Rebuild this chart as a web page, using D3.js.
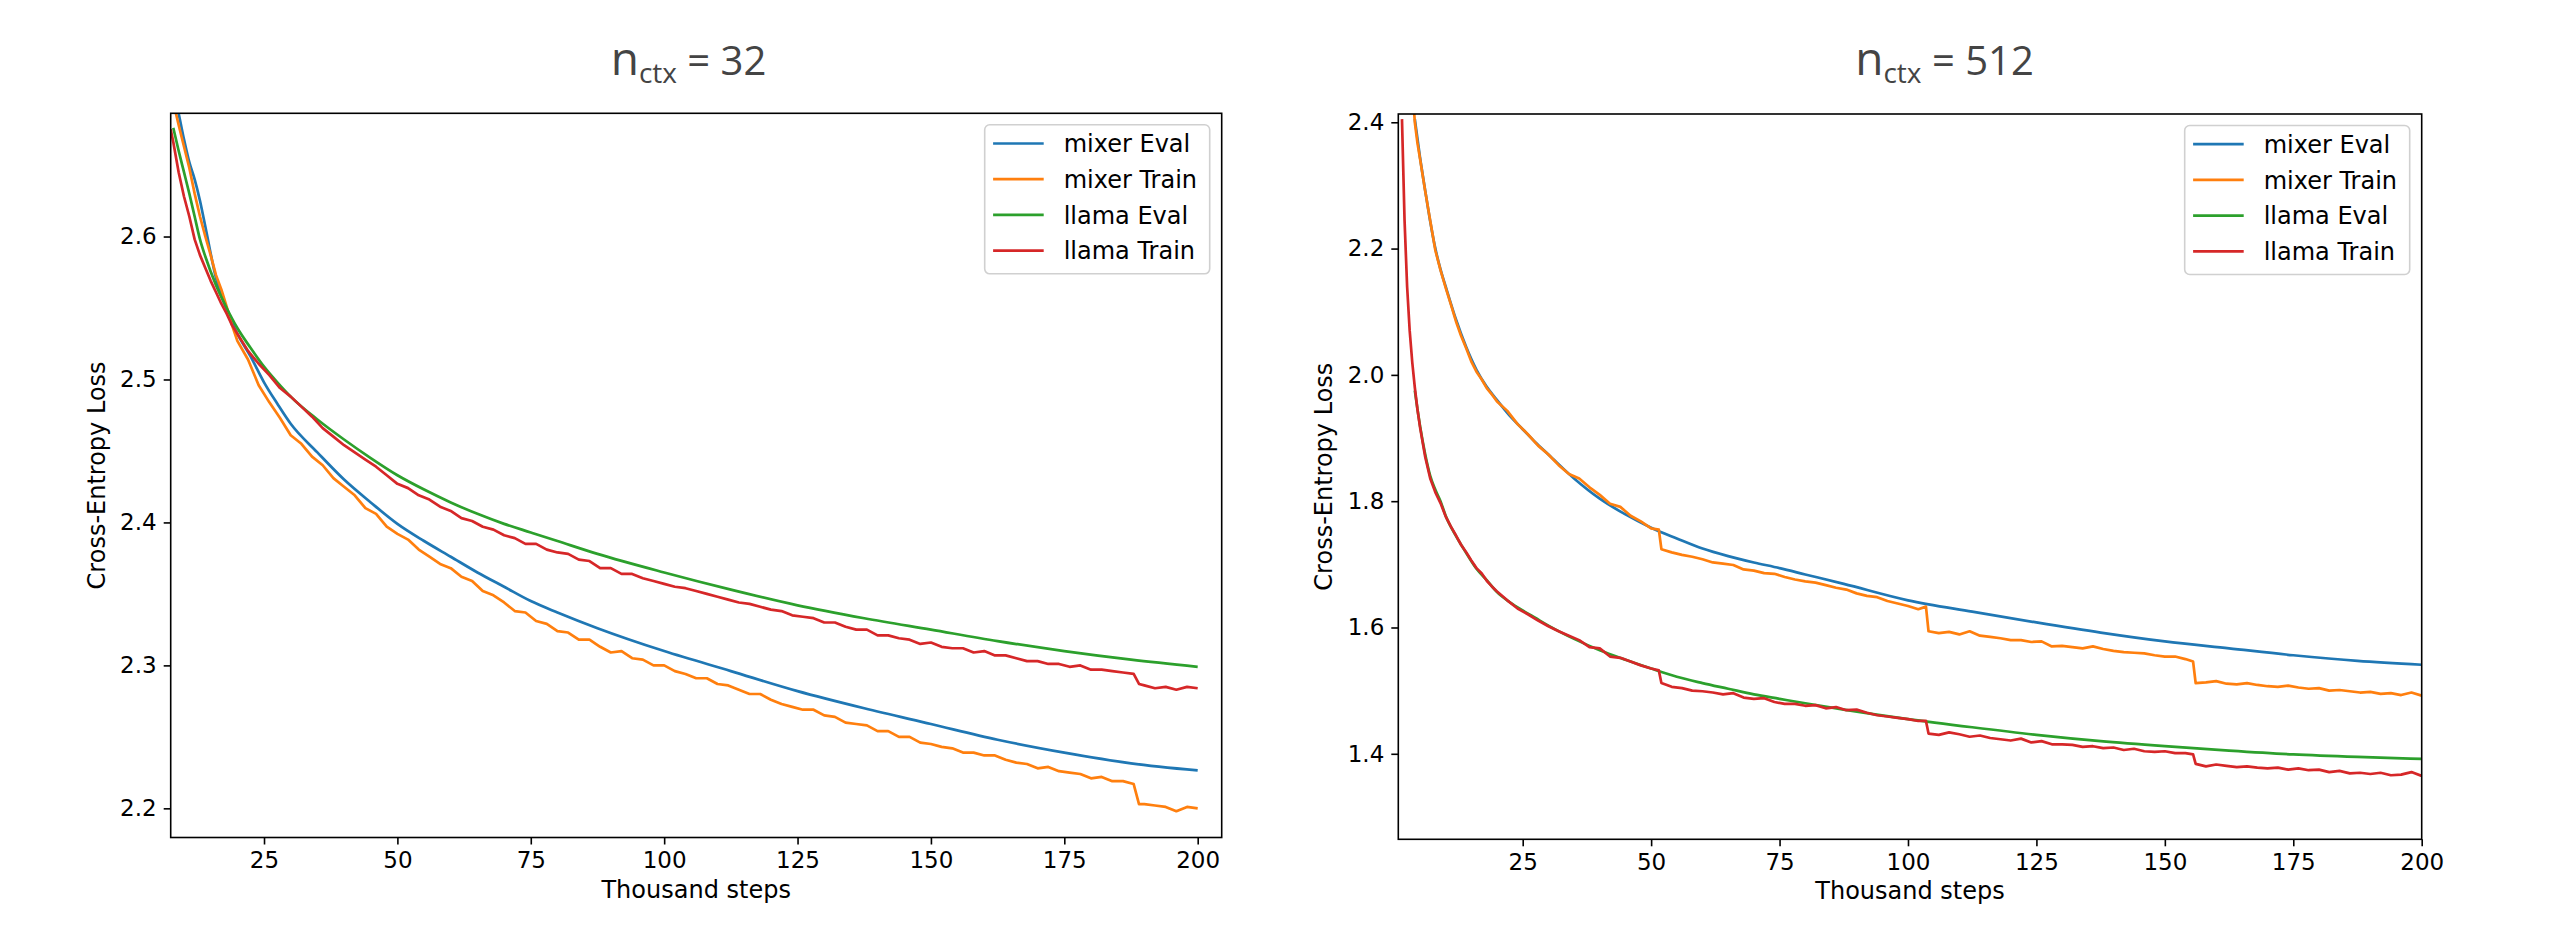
<!DOCTYPE html>
<html><head><meta charset="utf-8">
<script src="https://cdn.jsdelivr.net/npm/d3@7"></script>
<style>
html,body{margin:0;padding:0;background:#fff;}
svg{display:block;}
</style></head><body>
<svg id="chart" width="2554" height="942"></svg>
<script>
// ---------- DATA ----------
const seriesNames = ["mixer Eval", "mixer Train", "llama Eval", "llama Train"];
const seriesColors = ["#1f77b4", "#ff7f0e", "#2ca02c", "#d62728"];
const xTickValues = [25, 50, 75, 100, 125, 150, 175, 200];
const yTicks32 = [2.2, 2.3, 2.4, 2.5, 2.6];
const yTicks512 = [1.4, 1.6, 1.8, 2.0, 2.2, 2.4];
const panelTitles = ["32", "512"];

// n_ctx = 32
const evalSteps32 = [8, 9, 10, 11, 12, 13, 14, 16, 18, 20, 22.5, 25, 27.5, 30, 35, 40, 45, 50, 55, 60, 65, 70, 75, 80, 87.5, 100, 112.5, 125, 137.5, 150, 162.5, 175, 187.5, 200];
const mixerEval32 = [2.702, 2.686, 2.668, 2.652, 2.640, 2.625, 2.607, 2.571, 2.549, 2.532, 2.516, 2.498, 2.483, 2.469, 2.449, 2.430, 2.414, 2.399, 2.387, 2.376, 2.365, 2.355, 2.345, 2.337, 2.326, 2.310, 2.296, 2.282, 2.270, 2.259, 2.248, 2.239, 2.2315, 2.2265];
const llamaEval32 = [2.676, 2.660, 2.645, 2.630, 2.614, 2.598, 2.586, 2.566, 2.550, 2.536, 2.522, 2.509, 2.498, 2.488, 2.472, 2.458, 2.445, 2.433, 2.423, 2.414, 2.406, 2.399, 2.393, 2.387, 2.378, 2.365, 2.353, 2.342, 2.333, 2.325, 2.317, 2.310, 2.304, 2.299];
const trainSteps32 = [7.5, 8, 9, 10, 11, 12, 13, 14, 15, 16, 17, 18, 19, 20,
  22, 24, 26, 28, 30, 32, 34, 36, 38, 40, 42, 44, 46, 48, 50, 52, 54, 56, 58, 60,
  62, 64, 66, 68, 70, 72, 74, 76, 78, 80, 82, 84, 86, 88, 90, 92, 94, 96, 98, 100,
  102, 104, 106, 108, 110, 112, 114, 116, 118, 120, 122, 124, 126, 128, 130, 132, 134, 136, 138, 140,
  142, 144, 146, 148, 150, 152, 154, 156, 158, 160, 162, 164, 166, 168, 170, 172, 174, 176, 178, 180,
  182, 184, 186, 188, 189, 190, 192, 194, 196, 198, 200];
const mixerTrain32 = [2.705, 2.694, 2.678, 2.663, 2.648, 2.630, 2.614, 2.600, 2.587, 2.573, 2.563, 2.551, 2.538, 2.527,
  2.514, 2.496, 2.484, 2.473, 2.461, 2.455, 2.446, 2.440, 2.431, 2.425, 2.419, 2.410, 2.406, 2.397, 2.392, 2.388, 2.381, 2.376, 2.371, 2.368,
  2.362, 2.359, 2.352, 2.349, 2.344, 2.338, 2.337, 2.331, 2.329, 2.324, 2.323, 2.318, 2.318, 2.313, 2.309, 2.310, 2.305, 2.304, 2.300, 2.300,
  2.296, 2.294, 2.291, 2.291, 2.287, 2.286, 2.283, 2.280, 2.280, 2.276, 2.273, 2.271, 2.269, 2.269, 2.265, 2.264, 2.260, 2.259, 2.258, 2.254,
  2.254, 2.250, 2.250, 2.246, 2.245, 2.243, 2.242, 2.239, 2.239, 2.237, 2.237, 2.234, 2.232, 2.231, 2.228, 2.229, 2.226, 2.225, 2.224, 2.221,
  2.222, 2.219, 2.219, 2.217, 2.203, 2.203, 2.202, 2.201, 2.198, 2.201, 2.200];
const llamaTrain32 = [2.675, 2.666, 2.645, 2.628, 2.614, 2.598, 2.587, 2.578, 2.569, 2.561, 2.553, 2.546, 2.538, 2.532,
  2.520, 2.511, 2.503, 2.494, 2.488, 2.481, 2.474, 2.466, 2.460, 2.454, 2.449, 2.444, 2.439, 2.433, 2.427, 2.424, 2.419, 2.416, 2.411, 2.408,
  2.403, 2.401, 2.397, 2.395, 2.391, 2.389, 2.385, 2.385, 2.381, 2.379, 2.378, 2.374, 2.373, 2.368, 2.368, 2.364, 2.364, 2.361, 2.359, 2.357,
  2.355, 2.354, 2.352, 2.350, 2.348, 2.346, 2.344, 2.343, 2.341, 2.339, 2.338, 2.335, 2.334, 2.333, 2.330, 2.330, 2.327, 2.325, 2.325, 2.321,
  2.321, 2.319, 2.318, 2.315, 2.316, 2.313, 2.312, 2.312, 2.309, 2.310, 2.307, 2.307, 2.305, 2.303, 2.303, 2.301, 2.301, 2.299, 2.300, 2.297,
  2.297, 2.296, 2.295, 2.294, 2.287, 2.286, 2.284, 2.285, 2.283, 2.285, 2.284];

// n_ctx = 512
const evalSteps512 = [4, 5, 6, 7, 8, 9, 10, 12, 14, 16, 18, 20, 22.5, 25, 27.5, 30, 35, 40, 45, 50, 55, 60, 65, 70, 75, 80, 87.5, 100, 112.5, 125, 137.5, 150, 162.5, 175, 187.5, 200];
const mixerEval512 = [2.405, 2.345, 2.293, 2.243, 2.200, 2.167, 2.140, 2.088, 2.044, 2.008, 1.981, 1.960, 1.935, 1.914, 1.893, 1.874, 1.836, 1.804, 1.779, 1.758, 1.741, 1.725, 1.713, 1.703, 1.694, 1.684, 1.669, 1.643, 1.625, 1.608, 1.592, 1.578, 1.567, 1.556, 1.547, 1.541];
const llamaEval512 = [1.975, 1.920, 1.875, 1.840, 1.818, 1.800, 1.777, 1.745, 1.718, 1.693, 1.675, 1.656, 1.640, 1.627, 1.615, 1.603, 1.582, 1.564, 1.549, 1.535, 1.522, 1.512, 1.503, 1.494, 1.487, 1.480, 1.470, 1.455, 1.442, 1.430, 1.420, 1.412, 1.405, 1.399, 1.395, 1.392];
const trainSteps512 = [1.5, 2, 2.5, 3, 3.5, 4, 4.5, 5, 6, 7, 8, 9, 10, 11, 12, 13, 14, 15, 16, 17, 18, 19, 20,
  22, 24, 26, 28, 30, 32, 34, 36, 38, 40, 42, 44, 46, 48, 50, 51.5, 52,
  54, 56, 58, 60, 62, 64, 66, 68, 70, 72, 74, 76, 78, 80, 82, 84, 86, 88, 90, 92, 94, 96, 98, 100, 102, 103.5, 104,
  106, 108, 110, 112, 114, 116, 118, 120, 122, 124, 126, 128, 130, 132, 134, 136, 138, 140, 142, 144, 146, 148, 150, 152, 154, 155.5, 156,
  158, 160, 162, 164, 166, 168, 170, 172, 174, 176, 178, 180, 182, 184, 186, 188, 190, 192, 194, 196, 198, 200];
const mixerTrain512 = [null, null, null, null, 2.460, 2.400, 2.368, 2.343, 2.292, 2.244, 2.197, 2.166, 2.138, 2.112, 2.085, 2.062, 2.042, 2.021, 2.005, 1.993, 1.979, 1.969, 1.958,
  1.943, 1.922, 1.906, 1.888, 1.874, 1.857, 1.843, 1.836, 1.822, 1.810, 1.796, 1.791, 1.777, 1.768, 1.757, 1.755, 1.724,
  1.719, 1.715, 1.712, 1.708, 1.703, 1.701, 1.699, 1.692, 1.690, 1.686, 1.685, 1.680, 1.676, 1.673, 1.671, 1.667, 1.663, 1.660, 1.654, 1.650, 1.648, 1.642, 1.638, 1.634, 1.629, 1.633, 1.594,
  1.591, 1.593, 1.589, 1.594, 1.587, 1.585, 1.583, 1.580, 1.580, 1.577, 1.578, 1.570, 1.571, 1.569, 1.567, 1.570, 1.566, 1.563, 1.561, 1.560, 1.559, 1.556, 1.554, 1.554, 1.550, 1.546, 1.512,
  1.513, 1.515, 1.511, 1.510, 1.512, 1.509, 1.507, 1.506, 1.508, 1.505, 1.503, 1.504, 1.500, 1.501, 1.499, 1.497, 1.498, 1.495, 1.496, 1.493, 1.497, 1.492];
const llamaTrain512 = [2.405, 2.245, 2.140, 2.070, 2.020, 1.980, 1.946, 1.918, 1.871, 1.836, 1.814, 1.797, 1.776, 1.760, 1.746, 1.731, 1.719, 1.706, 1.694, 1.686, 1.674, 1.665, 1.657,
  1.643, 1.630, 1.621, 1.611, 1.602, 1.594, 1.587, 1.580, 1.569, 1.567, 1.554, 1.552, 1.546, 1.540, 1.535, 1.532, 1.512,
  1.506, 1.504, 1.500, 1.499, 1.497, 1.494, 1.496, 1.489, 1.487, 1.488, 1.482, 1.479, 1.479, 1.476, 1.477, 1.472, 1.474, 1.469, 1.470, 1.465, 1.461, 1.459, 1.457, 1.455, 1.452, 1.452, 1.432,
  1.430, 1.434, 1.431, 1.427, 1.429, 1.425, 1.423, 1.421, 1.424, 1.418, 1.420, 1.415, 1.415, 1.414, 1.411, 1.412, 1.409, 1.410, 1.406, 1.408, 1.404, 1.403, 1.404, 1.401, 1.401, 1.399, 1.384,
  1.380, 1.383, 1.381, 1.379, 1.380, 1.378, 1.377, 1.378, 1.375, 1.377, 1.374, 1.375, 1.371, 1.373, 1.369, 1.370, 1.368, 1.370, 1.366, 1.367, 1.371, 1.365];

// ---------- LAYOUT ----------
const panels = [
  { title: panelTitles[0], titleX: 688.5, ylabelX: 105,
    box: { left: 170.7, right: 1221.7, top: 113.3, bottom: 837.5 },
    xDomain: [7.51, 204.5], yDomain: [2.1796, 2.6862], yTicks: yTicks32,
    steps: [evalSteps32, trainSteps32, evalSteps32, trainSteps32],
    values: [mixerEval32, mixerTrain32, llamaEval32, llamaTrain32] },
  { title: panelTitles[1], titleX: 1944.5, ylabelX: 1332,
    box: { left: 1398.3, right: 2421.7, top: 114, bottom: 839.3 },
    xDomain: [0.784, 200], yDomain: [1.2646, 2.4131], yTicks: yTicks512,
    steps: [evalSteps512, trainSteps512, evalSteps512, trainSteps512],
    values: [mixerEval512, mixerTrain512, llamaEval512, llamaTrain512] }
];
const isEval = [true, false, true, false];

const svg = d3.select("#chart");
svg.append("rect").attr("width", 2554).attr("height", 942).attr("fill", "#fff");
const defs = svg.append("defs");
const TICK_FONT = 23, LABEL_FONT = 24, LEGEND_FONT = 24;

panels.forEach((p, pi) => {
  const b = p.box;
  const x = d3.scaleLinear().domain(p.xDomain).range([b.left, b.right]);
  const y = d3.scaleLinear().domain(p.yDomain).range([b.bottom, b.top]);

  defs.append("clipPath").attr("id", "clip" + pi)
    .append("rect").attr("x", b.left).attr("y", b.top)
    .attr("width", b.right - b.left).attr("height", b.bottom - b.top);

  // lines
  const g = svg.append("g").attr("clip-path", `url(#clip${pi})`);
  p.values.forEach((vals, si) => {
    const pts = vals.map((v, i) => [p.steps[si][i], v]);
    const line = d3.line().defined(d => d[1] !== null)
      .curve(isEval[si] ? d3.curveMonotoneX : d3.curveLinear)
      .x(d => x(d[0])).y(d => y(d[1]));
    g.append("path").datum(pts)
      .attr("d", line).attr("fill", "none")
      .attr("stroke", seriesColors[si]).attr("stroke-width", 2.7)
      .attr("stroke-linejoin", "round").attr("stroke-linecap", "butt");
  });

  // axes
  const xAxis = d3.axisBottom(x).tickValues(xTickValues).tickSize(7).tickPadding(7).tickFormat(d3.format("d"));
  const yAxis = d3.axisLeft(y).tickValues(p.yTicks).tickSize(7).tickPadding(7).tickFormat(d3.format(".1f"));
  const gx = svg.append("g").attr("transform", `translate(0,${b.bottom})`).call(xAxis);
  const gy = svg.append("g").attr("transform", `translate(${b.left},0)`).call(yAxis);
  [gx, gy].forEach(ax => {
    ax.select(".domain").remove();
    ax.attr("font-family", "'DejaVu Sans', sans-serif").attr("font-size", TICK_FONT);
    ax.selectAll(".tick line").attr("stroke", "#000").attr("stroke-width", 1.6);
    ax.selectAll(".tick text").attr("fill", "#000");
  });

  // frame
  svg.append("rect").attr("x", b.left).attr("y", b.top)
    .attr("width", b.right - b.left).attr("height", b.bottom - b.top)
    .attr("fill", "none").attr("stroke", "#000").attr("stroke-width", 1.6);

  // axis labels
  svg.append("text").attr("x", (b.left + b.right) / 2).attr("y", b.bottom + 60)
    .attr("text-anchor", "middle").attr("font-family", "'DejaVu Sans', sans-serif")
    .attr("font-size", LABEL_FONT).attr("fill", "#000").text("Thousand steps");
  svg.append("text")
    .attr("transform", `translate(${p.ylabelX},${(b.top + b.bottom) / 2}) rotate(-90)`)
    .attr("text-anchor", "middle").attr("font-family", "'DejaVu Sans', sans-serif")
    .attr("font-size", LABEL_FONT).attr("fill", "#000").text("Cross-Entropy Loss");

  // title
  const t = svg.append("text").attr("x", p.titleX).attr("y", 75)
    .attr("text-anchor", "middle").attr("font-family", "'Open Sans', sans-serif")
    .attr("fill", "#444");
  t.append("tspan").attr("font-size", 46).text("n");
  t.append("tspan").attr("font-size", 28).attr("dy", 8).text("ctx");
  t.append("tspan").attr("font-size", 40).attr("dy", -8).text(" = " + p.title);

  // legend
  const lw = 225, lh = 149;
  const lg = svg.append("g").attr("transform", `translate(${b.right - 12 - lw},${b.top + 11.5})`);
  lg.append("rect").attr("width", lw).attr("height", lh).attr("rx", 5).attr("ry", 5)
    .attr("fill", "#fff").attr("fill-opacity", 0.8)
    .attr("stroke", "#d0d0d0").attr("stroke-width", 1.6);
  seriesNames.forEach((name, si) => {
    const cy = 18.7 + si * 35.7;
    lg.append("line").attr("x1", 8.4).attr("x2", 59).attr("y1", cy).attr("y2", cy)
      .attr("stroke", seriesColors[si]).attr("stroke-width", 2.7);
    lg.append("text").attr("x", 79).attr("y", cy).attr("dy", "0.36em")
      .attr("font-family", "'DejaVu Sans', sans-serif").attr("font-size", LEGEND_FONT)
      .attr("fill", "#000").text(name);
  });
});
</script>
</body></html>
